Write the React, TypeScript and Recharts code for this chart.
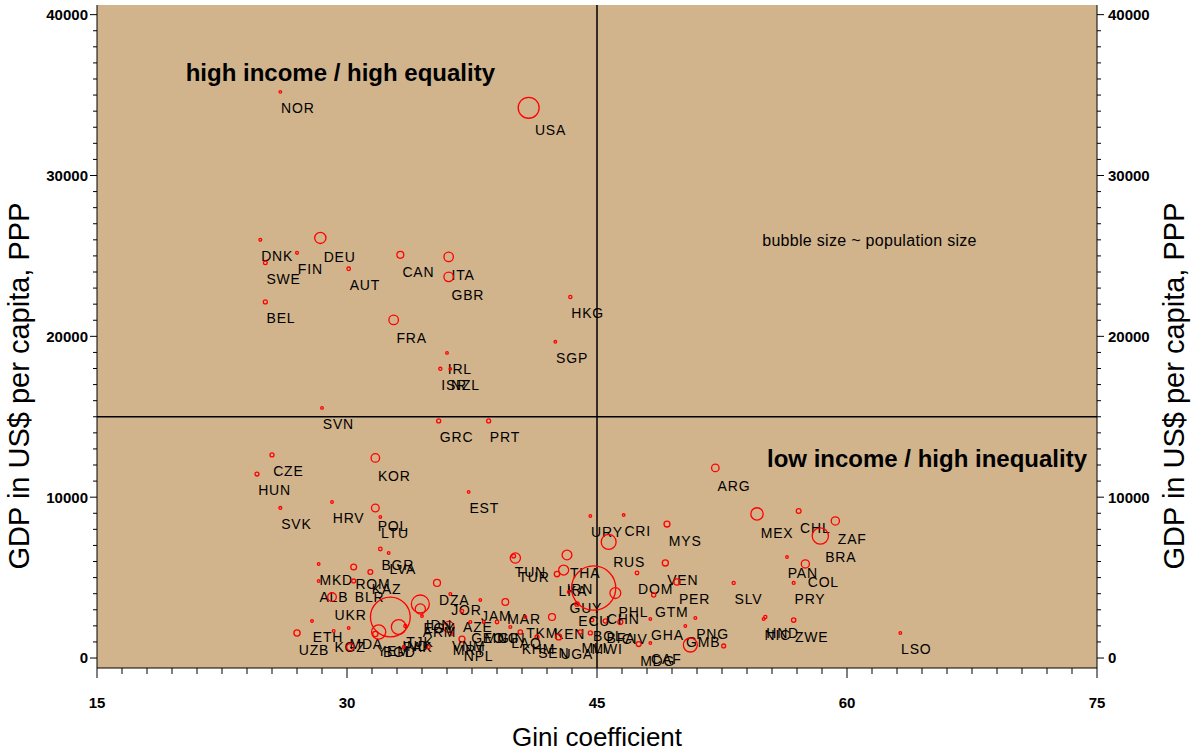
import {
  ScatterChart,
  Scatter,
  XAxis,
  YAxis,
  CartesianGrid,
  ReferenceLine,
  ReferenceDot,
  Label,
} from "recharts";

const FONT = "'Liberation Sans', Arial, Helvetica, sans-serif";

// country codes, Gini coefficient, GDP per capita (US$ PPP), population (millions, from bubble size)
const countries = [
  "NOR", "USA", "DNK", "DEU", "FIN", "SWE", "AUT", "CAN", "ITA", "GBR",
  "BEL", "FRA", "HKG", "SGP", "IRL", "ISR", "NZL", "SVN", "GRC", "PRT",
  "CZE", "HUN", "KOR", "EST", "SVK", "HRV", "POL", "LTU", "ARG", "MEX",
  "CHL", "ZAF", "BRA", "PAN", "COL", "SLV", "PRY", "NIC", "HND", "ZWE",
  "LSO", "URY", "CRI", "MYS", "RUS", "VEN", "PER", "DOM", "GTM", "PHL",
  "PNG", "GMB", "NGA", "ZMB", "MDG", "CAF", "BOL", "BFA", "GHA", "CIV",
  "JOR", "JAM", "AZE", "MAR", "TUN", "TUR", "THA", "IRN", "LKA", "GUY",
  "ECU", "CHN", "TKM", "KEN", "KHM", "SEN", "UGA", "MLI", "MWI", "NPL",
  "MRT", "GEO", "MNG", "GIN", "VNM", "LAO", "ARM", "EGY", "IDN", "DZA",
  "MKD", "ALB", "ROM", "BLR", "KAZ", "BGR", "LVA", "UKR", "UZB", "ETH",
  "MDA", "KGZ", "IND", "BGD", "PAK", "YEM", "TJK", "TZA", "SLE", "BDI",
];

const gini = [
  26.0, 40.9, 24.8, 28.4, 27.0, 25.1, 30.1, 33.2, 36.1, 36.1,
  25.1, 32.8, 43.4, 42.5, 36.0, 35.6, 36.2, 28.5, 35.5, 38.5,
  25.5, 24.6, 31.7, 37.3, 26.0, 29.1, 31.7, 32.0, 52.1, 54.6,
  57.1, 59.3, 58.4, 56.4, 57.5, 53.2, 56.8, 55.0, 55.1, 56.8,
  63.2, 44.6, 46.6, 49.2, 45.7, 49.1, 49.8, 47.4, 48.4, 46.1,
  50.9, 50.3, 50.6, 52.6, 47.5, 48.2, 44.7, 45.5, 48.2, 46.4,
  36.2, 38.0, 36.9, 39.5, 40.0, 40.1, 43.2, 43.0, 42.6, 43.3,
  43.8, 44.8, 40.7, 42.3, 40.4, 41.4, 42.7, 44.0, 44.6, 36.9,
  36.3, 37.4, 38.2, 39.0, 36.1, 39.8, 34.5, 34.4, 34.4, 35.4,
  28.3, 28.3, 30.4, 30.4, 31.4, 32.0, 32.5, 29.1, 27.0, 27.9,
  30.1, 29.2, 32.6, 31.9, 33.1, 31.7, 33.5, 30.2, 33.4, 34.9,
];

const gdp = [
  35200, 34210, 26000, 26120, 25190, 24570, 24200, 25070, 24940, 23700,
  22140, 21020, 22450, 19660, 18970, 17980, 17980, 15550, 14740, 14740,
  12630, 11440, 12440, 10330, 9330, 9700, 9330, 8770, 11820, 8960,
  9140, 8520, 7590, 6280, 5850, 4670, 4670, 2430, 2550, 2360,
  1555, 8830, 8890, 8330, 7220, 5910, 4730, 5290, 3920, 4040,
  2490, 1990, 810, 750, 870, 930, 2360, 2300, 2430, 2240,
  3980, 3610, 2920, 3480, 6340, 6220, 6410, 5470, 5220, 4110,
  3360, 4350, 2550, 2550, 1620, 1310, 1310, 1620, 1560, 1180,
  1490, 2240, 2240, 2240, 1930, 1930, 2610, 3050, 3360, 4670,
  5850, 4790, 5660, 4790, 5350, 6780, 6530, 3790, 1555, 2300,
  1870, 1680, 2550, 1620, 1930, 1490, 1990, 680, 680, 680,
];

const population = [
  4.5, 285, 5.3, 82, 5.2, 8.9, 8.1, 31, 57, 59,
  10.3, 59, 6.8, 4.1, 3.9, 6.4, 3.9, 2, 10.5, 10.2,
  10.3, 10.2, 47, 1.4, 5.4, 4.4, 38.6, 3.5, 37, 99,
  15.2, 44, 172, 2.9, 43, 6.3, 5.5, 5, 6.5, 12.5,
  2, 3.3, 3.9, 23, 145, 24, 26, 8.4, 11.7, 77,
  5, 1.3, 127, 10, 16, 3.7, 8.3, 11.5, 1.5, 16,
  5, 2.6, 8, 29, 9.6, 68, 62, 65, 19, 0.8,
  12.6, 1270, 4.8, 31, 12.5, 10, 23, 11, 10.5, 23,
  2.7, 5, 2.4, 8, 79, 5.3, 3, 68, 210, 31,
  2, 3.1, 22, 10, 15, 8, 2.4, 49, 25, 3,
  4.3, 5, 1030, 130, 140, 18, 6, 34, 5, 6,
];

const majorX = [15, 30, 45, 60, 75];
const majorY = [0, 10000, 20000, 30000, 40000];
const xTicks = Array.from({ length: 41 }, (_, i) => 15 + i * 1.5);
const yTicks = Array.from({ length: 41 }, (_, i) => i * 1000);

const data = countries.map((name, i) => ({
  name,
  gini: gini[i],
  gdp: gdp[i],
  pop: population[i],
}));

function Bubble(props: any) {
  const { cx, cy, payload } = props;
  const r = Math.max(1.3, 0.62 * Math.sqrt(payload.pop));
  const ly = cy + 15 + 0.7 * r;
  return (
    <g>
      <circle cx={cx} cy={cy} r={r} fill="none" stroke="#ff0000" strokeWidth={1.3} />
      {payload.name && ly < 662 && (
        <text
          x={cx + 0.6 * r}
          y={ly}
          dy="0.36em"
          fontFamily={FONT}
          fontSize={14}
          letterSpacing={0.8}
          fill="#000"
        >
          {payload.name}
        </text>
      )}
    </g>
  );
}

function BottomTick({ x, y, payload }: any) {
  const major = majorX.includes(payload.value);
  return (
    <g>
      <line x1={x} y1={y} x2={x} y2={y + (major ? 10 : 6)} stroke="#000" />
      {major && (
        <text x={x} y={y + 40} textAnchor="middle" fontFamily={FONT} fontSize={15} fontWeight="bold" fill="#000">
          {payload.value}
        </text>
      )}
    </g>
  );
}

function SideTick({ x, y, payload, side }: any) {
  const major = majorY.includes(payload.value);
  const dir = side === "left" ? -1 : 1;
  return (
    <g>
      <line x1={x} y1={y} x2={x + dir * (major ? 7 : 4)} y2={y} stroke="#000" />
      {major && (
        <text
          x={x + dir * (side === "left" ? 9 : 11)}
          y={y}
          dy="0.36em"
          textAnchor={side === "left" ? "end" : "start"}
          fontFamily={FONT}
          fontSize={15}
          fontWeight="bold"
          fill="#000"
        >
          {payload.value}
        </text>
      )}
    </g>
  );
}

// vertical axis title, centred a little below the plot middle as in the original
function SideTitle({ cx }: { cx: number }) {
  const cy = 386;
  return (
    <text
      x={cx}
      y={cy}
      dy="0.36em"
      transform={`rotate(-90, ${cx}, ${cy})`}
      textAnchor="middle"
      fontFamily={FONT}
      fontSize={29}
      fill="#000"
    >
      GDP in US$ per capita, PPP
    </text>
  );
}

export default function App() {
  return (
    <div style={{ position: "absolute", left: 0, top: 0, background: "#fff" }}>
      <ScatterChart width={1192} height={755} margin={{ top: 5, right: 6, bottom: 7, left: 8 }}>
        <CartesianGrid fill="#D2B48C" horizontal={false} vertical={false} />
        <XAxis
          type="number"
          dataKey="gini"
          domain={[15, 75]}
          ticks={xTicks}
          interval={0}
          allowDataOverflow
          tickLine={false}
          tickSize={0}
          tickMargin={0}
          height={80}
          axisLine={{ stroke: "#000" }}
          tick={(p: any) => <BottomTick {...p} />}
        >
          <Label
            value="Gini coefficient"
            position="insideBottom"
            offset={2}
            style={{ fontFamily: FONT, fill: "#000", fontSize: 26 }}
          />
        </XAxis>
        <XAxis
          xAxisId="top"
          orientation="top"
          type="number"
          domain={[15, 75]}
          allowDataOverflow
          height={0}
          tick={false}
          tickLine={false}
          axisLine={{ stroke: "#000" }}
        />
        <YAxis
          type="number"
          dataKey="gdp"
          domain={[-620, 40600]}
          ticks={yTicks}
          interval={0}
          allowDataOverflow
          tickLine={false}
          tickSize={0}
          tickMargin={0}
          width={89}
          axisLine={{ stroke: "#000" }}
          tick={(p: any) => <SideTick {...p} side="left" />}
        >
          <Label content={() => <SideTitle cx={19} />} />
        </YAxis>
        <YAxis
          yAxisId="right"
          orientation="right"
          type="number"
          domain={[-620, 40600]}
          ticks={yTicks}
          interval={0}
          allowDataOverflow
          tickLine={false}
          tickSize={0}
          tickMargin={0}
          width={89}
          axisLine={{ stroke: "#000" }}
          tick={(p: any) => <SideTick {...p} side="right" />}
        >
          <Label content={() => <SideTitle cx={1174} />} />
        </YAxis>
        <ReferenceLine x={45} stroke="#000" strokeWidth={1.5} />
        <ReferenceLine y={15000} stroke="#000" strokeWidth={1.5} />
        <Scatter data={data} shape={(p: any) => <Bubble {...p} />} isAnimationActive={false} />
        <ReferenceDot
          x={29.6}
          y={36390}
          r={0}
          label={{ value: "high income / high equality", position: "center", fontSize: 24, fontWeight: "bold", fontFamily: FONT, fill: "#000" }}
        />
        <ReferenceDot
          x={64.8}
          y={12380}
          r={0}
          label={{ value: "low income / high inequality", position: "center", fontSize: 24, fontWeight: "bold", fontFamily: FONT, fill: "#000" }}
        />
        <ReferenceDot
          x={61.35}
          y={25940}
          r={0}
          label={{ value: "bubble size ~ population size", position: "center", fontSize: 16, letterSpacing: 0.3, fontFamily: FONT, fill: "#000" }}
        />
      </ScatterChart>
    </div>
  );
}
